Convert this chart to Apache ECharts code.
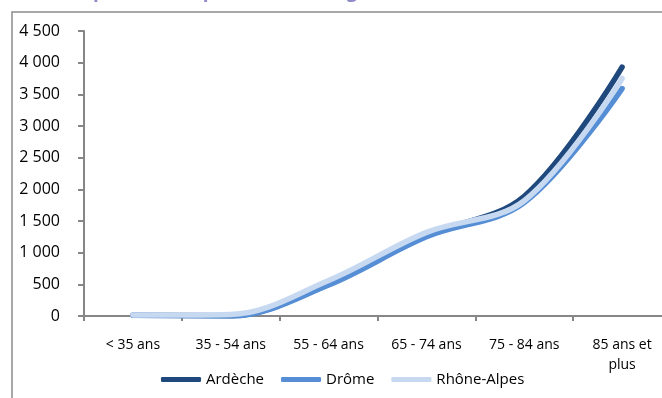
<!DOCTYPE html>
<html>
<head>
<meta charset="utf-8">
<script src="https://cdn.jsdelivr.net/npm/echarts@6/dist/echarts.min.js"></script>
<style>
  html, body { margin: 0; padding: 0; background: #fff; }
  #chart { width: 662px; height: 398px; }
</style>
</head>
<body>
<div id="chart"></div>
<script>
// Age groups along the horizontal axis
const categories = ['< 35 ans', '35 - 54 ans', '55 - 64 ans', '65 - 74 ans', '75 - 84 ans', '85 ans et\nplus'];

// Values per age group
const ardeche    = [10, 5, 500, 1270, 1890, 3930];
const drome      = [10, 0, 490, 1250, 1790, 3590];
const rhoneAlpes = [15, 25, 560, 1320, 1820, 3750];

const seriesNames = ['Ardèche', 'Drôme', 'Rhône-Alpes'];
const seriesColors = ['#1F497D', '#558ED5', '#C6D9F1'];

// Y axis settings
const yMin = 0, yMax = 4500, yStep = 500;

const fmtThousands = v => String(v).replace(/\B(?=(\d{3})+(?!\d))/g, ' ');

const chart = echarts.init(document.getElementById('chart'), null, { renderer: 'canvas' });

const seriesData = [ardeche, drome, rhoneAlpes];

chart.setOption({
  animation: false,
  backgroundColor: '#ffffff',
  textStyle: { fontFamily: 'Open Sans, sans-serif' },
  graphic: [
    {
      type: 'rect',
      shape: { x: 12, y: 12, width: 720, height: 460 },
      style: { fill: 'none', stroke: '#8c8c8c', lineWidth: 1.5 },
      silent: true
    },
    {
      type: 'text',
      x: 14, y: -18,
      style: {
        text: 'Taux de prévalence par tranche d’âge en 2010',
        font: 'bold 19px "Open Sans", sans-serif',
        fill: '#8f8ac8'
      },
      silent: true
    }
  ],
  grid: {
    left: 84, top: 31, width: 587, height: 285,
    containLabel: false,
    outerBoundsMode: 'none'
  },
  legend: {
    left: 156, top: 367,
    icon: 'roundRect',
    itemWidth: 40, itemHeight: 5, itemGap: 17,
    data: seriesNames,
    textStyle: { fontSize: 15, color: '#000', fontFamily: 'Open Sans, sans-serif' }
  },
  xAxis: {
    type: 'category',
    data: categories,
    boundaryGap: true,
    axisLine: { lineStyle: { color: '#868686', width: 2 } },
    axisTick: { show: true, inside: false, length: 5, alignWithLabel: false, lineStyle: { color: '#868686', width: 2 } },
    axisLabel: { color: '#000', fontSize: 14, margin: 19, interval: 0, lineHeight: 20 },
    splitLine: { show: false }
  },
  yAxis: {
    type: 'value',
    min: yMin, max: yMax, interval: yStep,
    axisLine: { show: true, lineStyle: { color: '#868686', width: 2 } },
    axisTick: { show: true, inside: false, length: 6, lineStyle: { color: '#868686', width: 2 } },
    axisLabel: { color: '#000', fontSize: 16, margin: 24, formatter: fmtThousands },
    splitLine: { show: false }
  },
  series: seriesData.map((d, i) => ({
    name: seriesNames[i],
    type: 'line',
    data: d,
    smooth: 0.35,
    symbol: 'none',
    showSymbol: false,
    color: seriesColors[i],
    lineStyle: { width: 5.5, color: seriesColors[i], cap: 'round', join: 'round' },
    z: 2 + i
  }))
});
</script>
</body>
</html>
